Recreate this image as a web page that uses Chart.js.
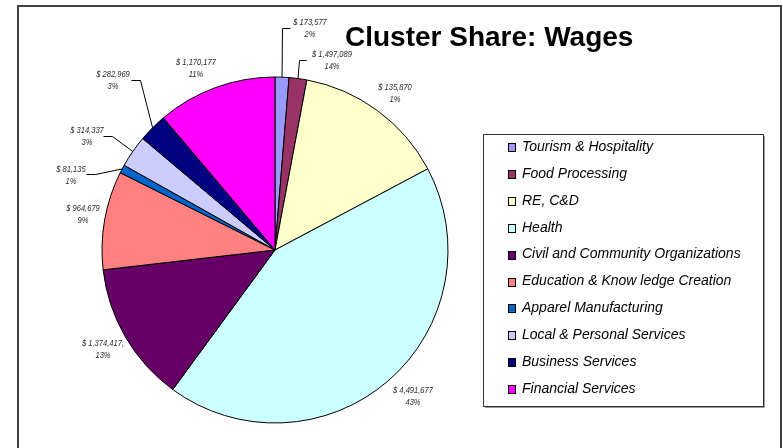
<!DOCTYPE html>
<html>
<head>
<meta charset="utf-8">
<script src="https://cdn.jsdelivr.net/npm/chart.js@4/dist/chart.umd.min.js"></script>
<style>
  html, body { margin: 0; padding: 0; background: #fff; }
  canvas { display: block; }
</style>
</head>
<body>
<canvas id="c" width="783" height="448"></canvas>
<script>
// ---- data ----
const categories = [
  "Tourism & Hospitality",
  "Food Processing",
  "RE, C&D",
  "Health",
  "Civil and Community Organizations",
  "Education & Know ledge Creation",
  "Apparel Manufacturing",
  "Local & Personal Services",
  "Business Services",
  "Financial Services"
];
const wages = [135870, 173577, 1497089, 4491677, 1374417, 964679, 81135, 314337, 282969, 1170177];
const labelAmounts = ["$ 173,577", "$ 1,497,089", "$ 135,870", "$ 4,491,677", "$ 1,374,417,", "$ 964,679", "$ 81,135", "$ 314,337", "$ 282,969", "$ 1,170,177"];
const labelPercents = ["2%", "14%", "1%", "43%", "13%", "9%", "1%", "3%", "3%", "11%"];
const titleText = "Cluster Share: Wages";

// ---- style / layout ----
const sliceColors = ["#9999FF", "#993366", "#FFFFCC", "#CCFFFF", "#660066", "#FF8080", "#0066CC", "#CCCCFF", "#000080", "#FF00FF"];
// label anchor (centre x, first line y) relative to pie centre
const labelPos = [[35,-228],[57,-196],[120,-163],[138,140],[-172,93],[-192,-42],[-204,-81],[-188,-120],[-162,-176],[-79,-188]];
// leader lines: [elbow, end] relative to pie centre, null = none
const leaders = [
  [[7,-222],[15,-222]],
  [[24,-190],[31,-190]],
  null, null, null, null,
  [[-180,-76],[-189,-76]],
  [[-163,-114],[-172,-114]],
  [[-135,-170],[-144,-170]],
  null
];

const decor = {
  id: 'decor',
  beforeDraw(chart) {
    const ctx = chart.ctx;
    ctx.save();
    ctx.fillStyle = '#fff';
    ctx.fillRect(0, 0, chart.width, chart.height);
    ctx.restore();
  },
  afterDatasetsDraw(chart) {
    const ctx = chart.ctx;
    const meta = chart.getDatasetMeta(0);
    const cx = meta.data[0].x, cy = meta.data[0].y;
    ctx.save();
    // leader lines
    ctx.strokeStyle = '#000';
    ctx.lineWidth = 1;
    meta.data.forEach((arc, i) => {
      const L = leaders[i];
      if (!L) return;
      const mid = (arc.startAngle + arc.endAngle) / 2;
      const ex = arc.x + Math.cos(mid) * arc.outerRadius;
      const ey = arc.y + Math.sin(mid) * arc.outerRadius;
      ctx.beginPath();
      ctx.moveTo(ex, ey);
      ctx.lineTo(cx + L[0][0] + 0.5, cy + L[0][1] + 0.5);
      ctx.lineTo(cx + L[1][0] + 0.5, cy + L[1][1] + 0.5);
      ctx.stroke();
    });
    // labels
    ctx.fillStyle = '#2a2a2a';
    ctx.font = 'italic 9px "Liberation Sans", Arial, sans-serif';
    ctx.textAlign = 'center';
    ctx.textBaseline = 'middle';
    const sx = 0.84;
    labelAmounts.forEach((t, i) => {
      const x = cx + labelPos[i][0], y = cy + labelPos[i][1];
      ctx.save();
      ctx.translate(x, y);
      ctx.scale(sx, 1);
      ctx.fillText(t, 0, 0);
      ctx.fillText(labelPercents[i], 0, 12);
      ctx.restore();
    });
    ctx.restore();
  },
  afterDraw(chart) {
    const ctx = chart.ctx;
    ctx.save();
    // outer frame
    ctx.strokeStyle = '#404040';
    ctx.lineWidth = 2;
    ctx.strokeRect(18, 6, 763, 460);
    // title
    ctx.fillStyle = '#000';
    ctx.font = 'bold 28px "Liberation Sans", Arial, sans-serif';
    ctx.textAlign = 'left';
    ctx.textBaseline = 'alphabetic';
    ctx.fillText(titleText, 345, 46);
    // legend box
    const bx = 483, by = 134, bw = 280, bh = 272;
    ctx.strokeStyle = '#999';
    ctx.lineWidth = 1;
    ctx.beginPath();
    ctx.moveTo(bx + bw + 1.5, by + 2);
    ctx.lineTo(bx + bw + 1.5, by + bh + 1.5);
    ctx.lineTo(bx + 2, by + bh + 1.5);
    ctx.stroke();
    ctx.strokeStyle = '#333';
    ctx.strokeRect(bx + 0.5, by + 0.5, bw, bh);
    // legend items
    ctx.font = 'italic 14px "Liberation Sans", Arial, sans-serif';
    ctx.textBaseline = 'middle';
    const ds = chart.data.datasets[0];
    chart.data.labels.forEach((lab, i) => {
      const y = 147 + i * 26.9;
      ctx.fillStyle = ds.backgroundColor[i];
      ctx.fillRect(508, Math.round(y - 4), 7, 8);
      ctx.strokeStyle = '#000';
      ctx.strokeRect(508.5, Math.round(y - 4) + 0.5, 7, 8);
      ctx.fillStyle = '#000';
      ctx.fillText(lab, 522, y);
    });
    ctx.restore();
  }
};

new Chart(document.getElementById('c'), {
  type: 'pie',
  data: {
    labels: categories,
    datasets: [{
      data: wages,
      backgroundColor: sliceColors,
      borderColor: '#000',
      borderWidth: 1
    }]
  },
  options: {
    responsive: false,
    animation: false,
    devicePixelRatio: 1,
    radius: 173,
    layout: { padding: { left: 102, right: 335, top: 77, bottom: 25 } },
    plugins: {
      legend: { display: false },
      title: { display: false },
      tooltip: { enabled: false }
    },
    events: []
  },
  plugins: [decor]
});
</script>
</body>
</html>
